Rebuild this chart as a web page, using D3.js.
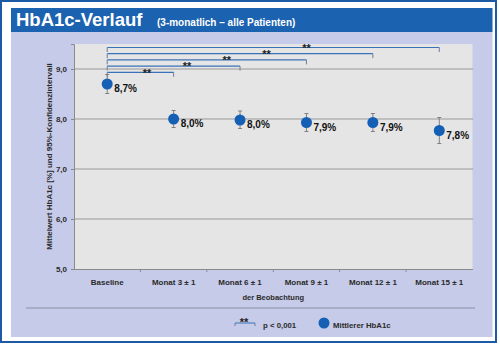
<!DOCTYPE html>
<html>
<head>
<meta charset="utf-8">
<script src="https://cdn.jsdelivr.net/npm/d3@7"></script>
<style>
html,body{margin:0;padding:0;background:#fff;}
svg{display:block;font-family:"Liberation Sans",Arial,sans-serif;}
</style>
</head>
<body>
<svg id="chart" width="500" height="346"></svg>
<script>
const categories = ["Baseline","Monat 3 \u00b1 1","Monat 6 \u00b1 1","Monat 9 \u00b1 1","Monat 12 \u00b1 1","Monat 15 \u00b1 1"];
const means  = [8.70, 8.00, 7.98, 7.93, 7.93, 7.77];
const ciLow  = [8.51, 7.83, 7.81, 7.75, 7.75, 7.51];
const ciHigh = [8.89, 8.17, 8.16, 8.11, 8.11, 8.03];
const valueLabels = ["8,7%","8,0%","8,0%","7,9%","7,9%","7,8%"];
const yTicks = [5, 6, 7, 8, 9];
const comparisons = [[0,1],[0,2],[0,3],[0,4],[0,5]];
const sigLabel = "**";
const titleText = "HbA1c-Verlauf";
const subtitleText = "(3-monatlich \u2013 alle Patienten)";
const yTitle = "Mittelwert HbA1c [%] und 95%-Konfidenzintervall";
const xTitle = "der Beobachtung";
const legendSig = "p < 0,001";
const legendSeries = "Mittlerer HbA1c";

(function(){
const svg = d3.select("#chart");
const blue = "#1b62b0";
const dotBlue = "#1560b4";
const lavender = "#c6cbe9";
const plotGray = "#e5e5e5";
const textDark = "#2a2a2a";

// frame
svg.append("rect").attr("x",1).attr("y",1).attr("width",495).attr("height",341)
  .attr("fill","#fff").attr("stroke","#1d5aa6").attr("stroke-width",2);
svg.append("rect").attr("x",11).attr("y",32).attr("width",481.5).attr("height",305).attr("fill",lavender);
svg.append("rect").attr("x",11).attr("y",8).attr("width",481.5).attr("height",24).attr("fill",blue);
svg.append("text").attr("x",16).attr("y",26).attr("fill","#fff").attr("font-weight","bold")
  .attr("font-size",18.5).text(titleText);
svg.append("text").attr("x",157).attr("y",26).attr("fill","#fff").attr("font-weight","bold")
  .attr("font-size",10).text(subtitleText);

const pLeft = 74, pRight = 472.5, pTop = 44, pBottom = 269;
const x = d3.scaleBand().domain(categories).range([pLeft, pRight]);
const y = d3.scaleLinear().domain([5, 9.5]).range([pBottom, pTop]);

svg.append("rect").attr("x",pLeft).attr("y",pTop).attr("width",pRight-pLeft).attr("height",pBottom-pTop).attr("fill",plotGray);

// gridlines
svg.append("g").selectAll("line").data(yTicks.filter(d=>d>5)).join("line")
  .attr("x1",pLeft).attr("x2",pRight+0.5).attr("y1",d=>y(d)).attr("y2",d=>y(d))
  .attr("stroke","#9a9a9a").attr("stroke-width",1.2);

// y axis
const yAxis = d3.axisLeft(y).tickValues(yTicks).tickSize(3).tickPadding(4)
  .tickFormat(d=>d.toFixed(1).replace(".",","));
const gy = svg.append("g").attr("transform",`translate(${pLeft},0)`).call(yAxis);
gy.select(".domain").attr("stroke","#8a8a8a");
gy.selectAll(".tick line").attr("stroke","#8a8a8a");
gy.selectAll("text").attr("font-size",8).attr("font-weight","bold").attr("fill",textDark)
  .attr("font-family","Liberation Sans, Arial, sans-serif");

// x axis
const xAxis = d3.axisBottom(x).tickSize(0).tickPadding(10);
const gx = svg.append("g").attr("transform",`translate(0,${pBottom})`).call(xAxis);
gx.select(".domain").attr("stroke","#8a8a8a");
gx.selectAll("text").attr("font-size",8).attr("font-weight","bold").attr("fill",textDark)
  .attr("font-family","Liberation Sans, Arial, sans-serif");
svg.append("g").selectAll("line").data(categories.slice(1)).join("line")
  .attr("x1",d=>x(d)).attr("x2",d=>x(d)).attr("y1",pBottom).attr("y2",pBottom+3)
  .attr("stroke","#8a8a8a");

// axis titles
svg.append("text").attr("transform",`translate(52,${(pTop+pBottom)/2}) rotate(-90)`)
  .attr("text-anchor","middle").attr("font-size",8).attr("font-weight","bold").attr("fill",textDark)
  .text(yTitle);
svg.append("text").attr("x",(pLeft+pRight)/2).attr("y",300).attr("text-anchor","middle")
  .attr("font-size",7.5).attr("font-weight","bold").attr("fill",textDark).text(xTitle);

// separator
svg.append("line").attr("x1",26).attr("x2",475).attr("y1",308).attr("y2",308)
  .attr("stroke","#8c90a6").attr("stroke-width",1);

// significance brackets
const cx = c => x(c) + x.bandwidth()/2;
const br = svg.append("g");
comparisons.forEach(([a,b], i) => {
  const ly = 72.3 - i*6.2;
  const x1 = cx(categories[a]), x2 = cx(categories[b]);
  br.append("line").attr("x1",x1).attr("x2",x2).attr("y1",ly).attr("y2",ly)
    .attr("stroke","#3a72b8").attr("stroke-width",1.2);
  br.append("line").attr("x1",x1).attr("x2",x1).attr("y1",ly).attr("y2",ly+4.5)
    .attr("stroke","#6d7f9a").attr("stroke-width",1);
  br.append("line").attr("x1",x2).attr("x2",x2).attr("y1",ly).attr("y2",ly+4.5)
    .attr("stroke","#6d7f9a").attr("stroke-width",1);
  br.append("text").attr("x",x1 + 0.6*(x2-x1)).attr("y",ly+4.3).attr("text-anchor","middle")
    .attr("font-size",11).attr("font-weight","bold").attr("fill","#222").text(sigLabel);
});

// error bars
const eb = svg.append("g").attr("stroke","#808080").attr("stroke-width",1);
categories.forEach((c,i)=>{
  const px = cx(c);
  eb.append("line").attr("x1",px).attr("x2",px).attr("y1",y(ciLow[i])).attr("y2",y(ciHigh[i]));
  eb.append("line").attr("x1",px-2).attr("x2",px+2).attr("y1",y(ciLow[i])).attr("y2",y(ciLow[i]));
  eb.append("line").attr("x1",px-2).attr("x2",px+2).attr("y1",y(ciHigh[i])).attr("y2",y(ciHigh[i]));
});

// points
svg.append("g").selectAll("circle").data(categories).join("circle")
  .attr("cx",d=>cx(d)).attr("cy",(d,i)=>y(means[i])).attr("r",5.5).attr("fill",dotBlue);

// value labels
svg.append("g").selectAll("text").data(categories).join("text")
  .attr("x",d=>cx(d)+7).attr("y",(d,i)=>y(means[i])+8)
  .attr("font-size",10).attr("font-weight","bold").attr("fill","#111")
  .text((d,i)=>valueLabels[i]);

// legend
const lg = svg.append("g");
lg.append("line").attr("x1",235).attr("x2",255).attr("y1",323).attr("y2",323).attr("stroke","#3a72b8").attr("stroke-width",1);
lg.append("line").attr("x1",235).attr("x2",235).attr("y1",323).attr("y2",326).attr("stroke","#6d7f9a");
lg.append("line").attr("x1",255).attr("x2",255).attr("y1",323).attr("y2",326).attr("stroke","#6d7f9a");
lg.append("text").attr("x",244).attr("y",325.5).attr("text-anchor","middle").attr("font-size",11)
  .attr("font-weight","bold").attr("fill","#222").text(sigLabel);
lg.append("text").attr("x",263).attr("y",327.5).attr("font-size",7.8).attr("font-weight","bold")
  .attr("fill",textDark).text(legendSig);
lg.append("circle").attr("cx",324).attr("cy",323).attr("r",5.5).attr("fill",dotBlue);
lg.append("text").attr("x",333).attr("y",327.5).attr("font-size",7.8).attr("font-weight","bold")
  .attr("fill",textDark).text(legendSeries);
})();
</script>
</body>
</html>
